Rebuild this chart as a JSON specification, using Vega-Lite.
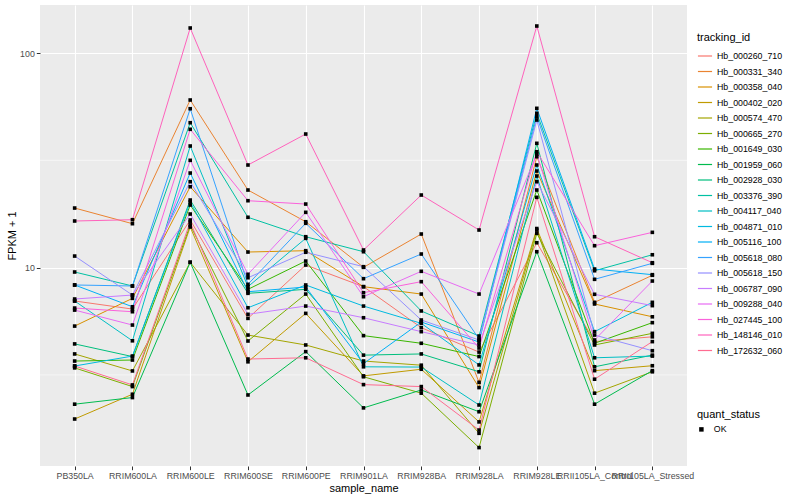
{
"$schema":"https://vega.github.io/schema/vega-lite/v6.json",
"width":647,"height":461,
"autosize":{"type":"none"},
"padding":{"left":40,"top":5,"right":113,"bottom":34},
"background":"white",
"config":{"view":{"fill":"#EBEBEB","stroke":null},"font":"Liberation Sans",
"axis":{"domain":false,"tickColor":"#333333","tickSize":3.7,"tickWidth":1,"labelColor":"#4D4D4D","labelFontSize":8.8,"titleFontSize":11,"titleFontWeight":"normal","titleColor":"black","gridColor":"white","gridWidth":1.1,"labelPadding":2},
"legend":{"titleFontSize":11,"titleFontWeight":"normal","titleColor":"black","labelFontSize":8.8,"labelColor":"black"}},
"datasets":{
"minor":[{"g":3.1623},{"g":31.623}],
"expr":[
{"tracking_id":"Hb_000260_710","sample_name":"PB350LA","fpkm":6.99},{"tracking_id":"Hb_000260_710","sample_name":"RRIM600LA","fpkm":6.41},{"tracking_id":"Hb_000260_710","sample_name":"RRIM600LE","fpkm":16.67},{"tracking_id":"Hb_000260_710","sample_name":"RRIM600SE","fpkm":5.80},{"tracking_id":"Hb_000260_710","sample_name":"RRIM600PE","fpkm":10.28},{"tracking_id":"Hb_000260_710","sample_name":"RRIM901LA","fpkm":8.15},{"tracking_id":"Hb_000260_710","sample_name":"RRIM928BA","fpkm":5.25},{"tracking_id":"Hb_000260_710","sample_name":"RRIM928LA","fpkm":4.04},{"tracking_id":"Hb_000260_710","sample_name":"RRIM928LE","fpkm":13.06},{"tracking_id":"Hb_000260_710","sample_name":"RRII105LA_Control","fpkm":4.52},{"tracking_id":"Hb_000260_710","sample_name":"RRII105LA_Stressed","fpkm":4.76},
{"tracking_id":"Hb_000331_340","sample_name":"PB350LA","fpkm":18.95},{"tracking_id":"Hb_000331_340","sample_name":"RRIM600LA","fpkm":16.02},{"tracking_id":"Hb_000331_340","sample_name":"RRIM600LE","fpkm":60.4},{"tracking_id":"Hb_000331_340","sample_name":"RRIM600SE","fpkm":22.99},{"tracking_id":"Hb_000331_340","sample_name":"RRIM600PE","fpkm":16.36},{"tracking_id":"Hb_000331_340","sample_name":"RRIM901LA","fpkm":10.03},{"tracking_id":"Hb_000331_340","sample_name":"RRIM928BA","fpkm":14.34},{"tracking_id":"Hb_000331_340","sample_name":"RRIM928LA","fpkm":2.92},{"tracking_id":"Hb_000331_340","sample_name":"RRIM928LE","fpkm":32.87},{"tracking_id":"Hb_000331_340","sample_name":"RRII105LA_Control","fpkm":6.89},{"tracking_id":"Hb_000331_340","sample_name":"RRII105LA_Stressed","fpkm":9.21},
{"tracking_id":"Hb_000358_040","sample_name":"PB350LA","fpkm":5.34},{"tracking_id":"Hb_000358_040","sample_name":"RRIM600LA","fpkm":7.19},{"tracking_id":"Hb_000358_040","sample_name":"RRIM600LE","fpkm":23.82},{"tracking_id":"Hb_000358_040","sample_name":"RRIM600SE","fpkm":11.82},{"tracking_id":"Hb_000358_040","sample_name":"RRIM600PE","fpkm":11.99},{"tracking_id":"Hb_000358_040","sample_name":"RRIM901LA","fpkm":8.15},{"tracking_id":"Hb_000358_040","sample_name":"RRIM928BA","fpkm":7.53},{"tracking_id":"Hb_000358_040","sample_name":"RRIM928LA","fpkm":2.76},{"tracking_id":"Hb_000358_040","sample_name":"RRIM928LE","fpkm":28.19},{"tracking_id":"Hb_000358_040","sample_name":"RRII105LA_Control","fpkm":6.77},{"tracking_id":"Hb_000358_040","sample_name":"RRII105LA_Stressed","fpkm":5.90},
{"tracking_id":"Hb_000402_020","sample_name":"PB350LA","fpkm":1.97},{"tracking_id":"Hb_000402_020","sample_name":"RRIM600LA","fpkm":2.57},{"tracking_id":"Hb_000402_020","sample_name":"RRIM600LE","fpkm":15.46},{"tracking_id":"Hb_000402_020","sample_name":"RRIM600SE","fpkm":3.64},{"tracking_id":"Hb_000402_020","sample_name":"RRIM600PE","fpkm":6.12},{"tracking_id":"Hb_000402_020","sample_name":"RRIM901LA","fpkm":3.13},{"tracking_id":"Hb_000402_020","sample_name":"RRIM928BA","fpkm":3.36},{"tracking_id":"Hb_000402_020","sample_name":"RRIM928LA","fpkm":1.91},{"tracking_id":"Hb_000402_020","sample_name":"RRIM928LE","fpkm":15.21},{"tracking_id":"Hb_000402_020","sample_name":"RRII105LA_Control","fpkm":3.31},{"tracking_id":"Hb_000402_020","sample_name":"RRII105LA_Stressed","fpkm":3.49},
{"tracking_id":"Hb_000574_470","sample_name":"PB350LA","fpkm":3.96},{"tracking_id":"Hb_000574_470","sample_name":"RRIM600LA","fpkm":3.30},{"tracking_id":"Hb_000574_470","sample_name":"RRIM600LE","fpkm":10.59},{"tracking_id":"Hb_000574_470","sample_name":"RRIM600SE","fpkm":4.85},{"tracking_id":"Hb_000574_470","sample_name":"RRIM600PE","fpkm":4.36},{"tracking_id":"Hb_000574_470","sample_name":"RRIM901LA","fpkm":3.67},{"tracking_id":"Hb_000574_470","sample_name":"RRIM928BA","fpkm":3.51},{"tracking_id":"Hb_000574_470","sample_name":"RRIM928LA","fpkm":1.69},{"tracking_id":"Hb_000574_470","sample_name":"RRIM928LE","fpkm":14.97},{"tracking_id":"Hb_000574_470","sample_name":"RRII105LA_Control","fpkm":2.60},{"tracking_id":"Hb_000574_470","sample_name":"RRII105LA_Stressed","fpkm":3.27},
{"tracking_id":"Hb_000665_270","sample_name":"PB350LA","fpkm":3.41},{"tracking_id":"Hb_000665_270","sample_name":"RRIM600LA","fpkm":2.79},{"tracking_id":"Hb_000665_270","sample_name":"RRIM600LE","fpkm":15.79},{"tracking_id":"Hb_000665_270","sample_name":"RRIM600SE","fpkm":4.55},{"tracking_id":"Hb_000665_270","sample_name":"RRIM600PE","fpkm":7.53},{"tracking_id":"Hb_000665_270","sample_name":"RRIM901LA","fpkm":3.10},{"tracking_id":"Hb_000665_270","sample_name":"RRIM928BA","fpkm":2.60},{"tracking_id":"Hb_000665_270","sample_name":"RRIM928LA","fpkm":1.45},{"tracking_id":"Hb_000665_270","sample_name":"RRIM928LE","fpkm":14.45},{"tracking_id":"Hb_000665_270","sample_name":"RRII105LA_Control","fpkm":4.36},{"tracking_id":"Hb_000665_270","sample_name":"RRII105LA_Stressed","fpkm":4.94},
{"tracking_id":"Hb_001649_030","sample_name":"PB350LA","fpkm":3.67},{"tracking_id":"Hb_001649_030","sample_name":"RRIM600LA","fpkm":3.71},{"tracking_id":"Hb_001649_030","sample_name":"RRIM600LE","fpkm":19.57},{"tracking_id":"Hb_001649_030","sample_name":"RRIM600SE","fpkm":7.92},{"tracking_id":"Hb_001649_030","sample_name":"RRIM600PE","fpkm":10.73},{"tracking_id":"Hb_001649_030","sample_name":"RRIM901LA","fpkm":4.82},{"tracking_id":"Hb_001649_030","sample_name":"RRIM928BA","fpkm":4.44},{"tracking_id":"Hb_001649_030","sample_name":"RRIM928LA","fpkm":3.85},{"tracking_id":"Hb_001649_030","sample_name":"RRIM928LE","fpkm":22.99},{"tracking_id":"Hb_001649_030","sample_name":"RRII105LA_Control","fpkm":4.44},{"tracking_id":"Hb_001649_030","sample_name":"RRII105LA_Stressed","fpkm":5.54},
{"tracking_id":"Hb_001959_060","sample_name":"PB350LA","fpkm":2.31},{"tracking_id":"Hb_001959_060","sample_name":"RRIM600LA","fpkm":2.48},{"tracking_id":"Hb_001959_060","sample_name":"RRIM600LE","fpkm":10.59},{"tracking_id":"Hb_001959_060","sample_name":"RRIM600SE","fpkm":2.55},{"tracking_id":"Hb_001959_060","sample_name":"RRIM600PE","fpkm":4.06},{"tracking_id":"Hb_001959_060","sample_name":"RRIM901LA","fpkm":2.22},{"tracking_id":"Hb_001959_060","sample_name":"RRIM928BA","fpkm":2.69},{"tracking_id":"Hb_001959_060","sample_name":"RRIM928LA","fpkm":2.13},{"tracking_id":"Hb_001959_060","sample_name":"RRIM928LE","fpkm":11.86},{"tracking_id":"Hb_001959_060","sample_name":"RRII105LA_Control","fpkm":2.31},{"tracking_id":"Hb_001959_060","sample_name":"RRII105LA_Stressed","fpkm":3.31},
{"tracking_id":"Hb_002928_030","sample_name":"PB350LA","fpkm":4.41},{"tracking_id":"Hb_002928_030","sample_name":"RRIM600LA","fpkm":3.85},{"tracking_id":"Hb_002928_030","sample_name":"RRIM600LE","fpkm":20.65},{"tracking_id":"Hb_002928_030","sample_name":"RRIM600SE","fpkm":7.59},{"tracking_id":"Hb_002928_030","sample_name":"RRIM600PE","fpkm":7.92},{"tracking_id":"Hb_002928_030","sample_name":"RRIM901LA","fpkm":3.91},{"tracking_id":"Hb_002928_030","sample_name":"RRIM928BA","fpkm":3.96},{"tracking_id":"Hb_002928_030","sample_name":"RRIM928LA","fpkm":3.27},{"tracking_id":"Hb_002928_030","sample_name":"RRIM928LE","fpkm":37.95},{"tracking_id":"Hb_002928_030","sample_name":"RRII105LA_Control","fpkm":3.45},{"tracking_id":"Hb_002928_030","sample_name":"RRII105LA_Stressed","fpkm":3.91},
{"tracking_id":"Hb_003376_390","sample_name":"PB350LA","fpkm":9.54},{"tracking_id":"Hb_003376_390","sample_name":"RRIM600LA","fpkm":8.21},{"tracking_id":"Hb_003376_390","sample_name":"RRIM600LE","fpkm":47.34},{"tracking_id":"Hb_003376_390","sample_name":"RRIM600SE","fpkm":17.16},{"tracking_id":"Hb_003376_390","sample_name":"RRIM600PE","fpkm":13.93},{"tracking_id":"Hb_003376_390","sample_name":"RRIM901LA","fpkm":11.86},{"tracking_id":"Hb_003376_390","sample_name":"RRIM928BA","fpkm":6.28},{"tracking_id":"Hb_003376_390","sample_name":"RRIM928LA","fpkm":4.80},{"tracking_id":"Hb_003376_390","sample_name":"RRIM928LE","fpkm":52.36},{"tracking_id":"Hb_003376_390","sample_name":"RRII105LA_Control","fpkm":9.67},{"tracking_id":"Hb_003376_390","sample_name":"RRII105LA_Stressed","fpkm":11.48},
{"tracking_id":"Hb_004117_040","sample_name":"PB350LA","fpkm":6.99},{"tracking_id":"Hb_004117_040","sample_name":"RRIM600LA","fpkm":4.56},{"tracking_id":"Hb_004117_040","sample_name":"RRIM600LE","fpkm":36.87},{"tracking_id":"Hb_004117_040","sample_name":"RRIM600SE","fpkm":8.15},{"tracking_id":"Hb_004117_040","sample_name":"RRIM600PE","fpkm":13.69},{"tracking_id":"Hb_004117_040","sample_name":"RRIM901LA","fpkm":3.45},{"tracking_id":"Hb_004117_040","sample_name":"RRIM928BA","fpkm":3.44},{"tracking_id":"Hb_004117_040","sample_name":"RRIM928LA","fpkm":2.29},{"tracking_id":"Hb_004117_040","sample_name":"RRIM928LE","fpkm":26.72},{"tracking_id":"Hb_004117_040","sample_name":"RRII105LA_Control","fpkm":3.80},{"tracking_id":"Hb_004117_040","sample_name":"RRII105LA_Stressed","fpkm":3.87},
{"tracking_id":"Hb_004871_010","sample_name":"PB350LA","fpkm":3.48},{"tracking_id":"Hb_004871_010","sample_name":"RRIM600LA","fpkm":3.87},{"tracking_id":"Hb_004871_010","sample_name":"RRIM600LE","fpkm":20.21},{"tracking_id":"Hb_004871_010","sample_name":"RRIM600SE","fpkm":6.50},{"tracking_id":"Hb_004871_010","sample_name":"RRIM600PE","fpkm":8.30},{"tracking_id":"Hb_004871_010","sample_name":"RRIM901LA","fpkm":6.62},{"tracking_id":"Hb_004871_010","sample_name":"RRIM928BA","fpkm":5.50},{"tracking_id":"Hb_004871_010","sample_name":"RRIM928LA","fpkm":3.52},{"tracking_id":"Hb_004871_010","sample_name":"RRIM928LE","fpkm":30.07},{"tracking_id":"Hb_004871_010","sample_name":"RRII105LA_Control","fpkm":5.03},{"tracking_id":"Hb_004871_010","sample_name":"RRII105LA_Stressed","fpkm":6.89},
{"tracking_id":"Hb_005116_100","sample_name":"PB350LA","fpkm":8.30},{"tracking_id":"Hb_005116_100","sample_name":"RRIM600LA","fpkm":6.57},{"tracking_id":"Hb_005116_100","sample_name":"RRIM600LE","fpkm":27.59},{"tracking_id":"Hb_005116_100","sample_name":"RRIM600SE","fpkm":7.72},{"tracking_id":"Hb_005116_100","sample_name":"RRIM600PE","fpkm":8.12},{"tracking_id":"Hb_005116_100","sample_name":"RRIM901LA","fpkm":3.57},{"tracking_id":"Hb_005116_100","sample_name":"RRIM928BA","fpkm":5.58},{"tracking_id":"Hb_005116_100","sample_name":"RRIM928LA","fpkm":4.50},{"tracking_id":"Hb_005116_100","sample_name":"RRIM928LE","fpkm":55.24},{"tracking_id":"Hb_005116_100","sample_name":"RRII105LA_Control","fpkm":9.85},{"tracking_id":"Hb_005116_100","sample_name":"RRII105LA_Stressed","fpkm":9.27},
{"tracking_id":"Hb_005618_080","sample_name":"PB350LA","fpkm":8.30},{"tracking_id":"Hb_005618_080","sample_name":"RRIM600LA","fpkm":8.21},{"tracking_id":"Hb_005618_080","sample_name":"RRIM600LE","fpkm":55.0},{"tracking_id":"Hb_005618_080","sample_name":"RRIM600SE","fpkm":8.36},{"tracking_id":"Hb_005618_080","sample_name":"RRIM600PE","fpkm":16.09},{"tracking_id":"Hb_005618_080","sample_name":"RRIM901LA","fpkm":8.88},{"tracking_id":"Hb_005618_080","sample_name":"RRIM928BA","fpkm":11.57},{"tracking_id":"Hb_005618_080","sample_name":"RRIM928LA","fpkm":4.65},{"tracking_id":"Hb_005618_080","sample_name":"RRIM928LE","fpkm":50.5},{"tracking_id":"Hb_005618_080","sample_name":"RRII105LA_Control","fpkm":8.82},{"tracking_id":"Hb_005618_080","sample_name":"RRII105LA_Stressed","fpkm":10.47},
{"tracking_id":"Hb_005618_150","sample_name":"PB350LA","fpkm":11.32},{"tracking_id":"Hb_005618_150","sample_name":"RRIM600LA","fpkm":7.45},{"tracking_id":"Hb_005618_150","sample_name":"RRIM600LE","fpkm":25.14},{"tracking_id":"Hb_005618_150","sample_name":"RRIM600SE","fpkm":8.97},{"tracking_id":"Hb_005618_150","sample_name":"RRIM600PE","fpkm":11.79},{"tracking_id":"Hb_005618_150","sample_name":"RRIM901LA","fpkm":10.10},{"tracking_id":"Hb_005618_150","sample_name":"RRIM928BA","fpkm":5.70},{"tracking_id":"Hb_005618_150","sample_name":"RRIM928LA","fpkm":4.60},{"tracking_id":"Hb_005618_150","sample_name":"RRIM928LE","fpkm":48.73},{"tracking_id":"Hb_005618_150","sample_name":"RRII105LA_Control","fpkm":4.85},{"tracking_id":"Hb_005618_150","sample_name":"RRII105LA_Stressed","fpkm":4.10},
{"tracking_id":"Hb_006787_090","sample_name":"PB350LA","fpkm":7.14},{"tracking_id":"Hb_006787_090","sample_name":"RRIM600LA","fpkm":7.45},{"tracking_id":"Hb_006787_090","sample_name":"RRIM600LE","fpkm":17.77},{"tracking_id":"Hb_006787_090","sample_name":"RRIM600SE","fpkm":6.06},{"tracking_id":"Hb_006787_090","sample_name":"RRIM600PE","fpkm":6.62},{"tracking_id":"Hb_006787_090","sample_name":"RRIM901LA","fpkm":5.84},{"tracking_id":"Hb_006787_090","sample_name":"RRIM928BA","fpkm":5.03},{"tracking_id":"Hb_006787_090","sample_name":"RRIM928LA","fpkm":4.36},{"tracking_id":"Hb_006787_090","sample_name":"RRIM928LE","fpkm":25.14},{"tracking_id":"Hb_006787_090","sample_name":"RRII105LA_Control","fpkm":7.51},{"tracking_id":"Hb_006787_090","sample_name":"RRII105LA_Stressed","fpkm":6.65},
{"tracking_id":"Hb_009288_040","sample_name":"PB350LA","fpkm":6.34},{"tracking_id":"Hb_009288_040","sample_name":"RRIM600LA","fpkm":5.40},{"tracking_id":"Hb_009288_040","sample_name":"RRIM600LE","fpkm":31.62},{"tracking_id":"Hb_009288_040","sample_name":"RRIM600SE","fpkm":9.31},{"tracking_id":"Hb_009288_040","sample_name":"RRIM600PE","fpkm":18.10},{"tracking_id":"Hb_009288_040","sample_name":"RRIM901LA","fpkm":7.32},{"tracking_id":"Hb_009288_040","sample_name":"RRIM928BA","fpkm":9.61},{"tracking_id":"Hb_009288_040","sample_name":"RRIM928LA","fpkm":7.53},{"tracking_id":"Hb_009288_040","sample_name":"RRIM928LE","fpkm":33.84},{"tracking_id":"Hb_009288_040","sample_name":"RRII105LA_Control","fpkm":4.60},{"tracking_id":"Hb_009288_040","sample_name":"RRII105LA_Stressed","fpkm":8.66},
{"tracking_id":"Hb_027445_100","sample_name":"PB350LA","fpkm":6.48},{"tracking_id":"Hb_027445_100","sample_name":"RRIM600LA","fpkm":6.23},{"tracking_id":"Hb_027445_100","sample_name":"RRIM600LE","fpkm":44.11},{"tracking_id":"Hb_027445_100","sample_name":"RRIM600SE","fpkm":20.50},{"tracking_id":"Hb_027445_100","sample_name":"RRIM600PE","fpkm":19.78},{"tracking_id":"Hb_027445_100","sample_name":"RRIM901LA","fpkm":7.64},{"tracking_id":"Hb_027445_100","sample_name":"RRIM928BA","fpkm":8.60},{"tracking_id":"Hb_027445_100","sample_name":"RRIM928LA","fpkm":4.22},{"tracking_id":"Hb_027445_100","sample_name":"RRIM928LE","fpkm":34.68},{"tracking_id":"Hb_027445_100","sample_name":"RRII105LA_Control","fpkm":12.65},{"tracking_id":"Hb_027445_100","sample_name":"RRII105LA_Stressed","fpkm":14.60},
{"tracking_id":"Hb_148146_010","sample_name":"PB350LA","fpkm":16.49},{"tracking_id":"Hb_148146_010","sample_name":"RRIM600LA","fpkm":16.72},{"tracking_id":"Hb_148146_010","sample_name":"RRIM600LE","fpkm":130.8},{"tracking_id":"Hb_148146_010","sample_name":"RRIM600SE","fpkm":30.07},{"tracking_id":"Hb_148146_010","sample_name":"RRIM600PE","fpkm":41.93},{"tracking_id":"Hb_148146_010","sample_name":"RRIM901LA","fpkm":12.08},{"tracking_id":"Hb_148146_010","sample_name":"RRIM928BA","fpkm":21.79},{"tracking_id":"Hb_148146_010","sample_name":"RRIM928LA","fpkm":14.97},{"tracking_id":"Hb_148146_010","sample_name":"RRIM928LE","fpkm":133.6},{"tracking_id":"Hb_148146_010","sample_name":"RRII105LA_Control","fpkm":13.93},{"tracking_id":"Hb_148146_010","sample_name":"RRII105LA_Stressed","fpkm":10.54},
{"tracking_id":"Hb_172632_060","sample_name":"PB350LA","fpkm":3.48},{"tracking_id":"Hb_172632_060","sample_name":"RRIM600LA","fpkm":2.84},{"tracking_id":"Hb_172632_060","sample_name":"RRIM600LE","fpkm":16.31},{"tracking_id":"Hb_172632_060","sample_name":"RRIM600SE","fpkm":3.75},{"tracking_id":"Hb_172632_060","sample_name":"RRIM600PE","fpkm":3.80},{"tracking_id":"Hb_172632_060","sample_name":"RRIM901LA","fpkm":2.85},{"tracking_id":"Hb_172632_060","sample_name":"RRIM928BA","fpkm":2.79},{"tracking_id":"Hb_172632_060","sample_name":"RRIM928LA","fpkm":1.75},{"tracking_id":"Hb_172632_060","sample_name":"RRIM928LE","fpkm":21.26},{"tracking_id":"Hb_172632_060","sample_name":"RRII105LA_Control","fpkm":3.02},{"tracking_id":"Hb_172632_060","sample_name":"RRII105LA_Stressed","fpkm":4.52}
]},
"layer":[
{"data":{"name":"minor"},"mark":{"type":"rule","color":"white","strokeWidth":0.55},
 "encoding":{"y":{"field":"g","type":"quantitative","scale":{"type":"log","domain":[1.19,167.4],"nice":false,"zero":false},"axis":{"values":[10,100],"format":"d","title":"FPKM + 1","titlePadding":2}}}},
{"data":{"name":"expr"},"mark":{"type":"line","strokeWidth":1},
 "encoding":{
  "x":{"field":"sample_name","type":"nominal","sort":["PB350LA","RRIM600LA","RRIM600LE","RRIM600SE","RRIM600PE","RRIM901LA","RRIM928BA","RRIM928LA","RRIM928LE","RRII105LA_Control","RRII105LA_Stressed"],"scale":{"type":"point","padding":0.6},"axis":{"labelAngle":0,"labelOverlap":false,"labelBound":false,"grid":true,"title":"sample_name","titlePadding":2}},
  "y":{"field":"fpkm","type":"quantitative","scale":{"type":"log","domain":[1.19,167.4],"nice":false,"zero":false},"axis":{"values":[10,100],"format":"d","title":"FPKM + 1","titlePadding":2}},
  "color":{"field":"tracking_id","type":"nominal","scale":{"range":["#F8766D","#EA8331","#D89000","#C09B00","#A3A500","#7CAE00","#39B600","#00BB4E","#00BF7D","#00C1A3","#00BFC4","#00BAE0","#00B0F6","#35A2FF","#9590FF","#C77CFF","#E76BF3","#FA62DB","#FF62BC","#FF6C91"]},
   "legend":{"orient":"none","legendX":657,"legendY":27,"title":"tracking_id","symbolType":"stroke","symbolStrokeWidth":1.2,"symbolSize":200,"rowPadding":2.5,"labelOffset":4}}
 }},
{"data":{"name":"expr"},"mark":{"type":"point","filled":true,"color":"black","size":13,"opacity":1},
 "encoding":{
  "x":{"field":"sample_name","type":"nominal","sort":["PB350LA","RRIM600LA","RRIM600LE","RRIM600SE","RRIM600PE","RRIM901LA","RRIM928BA","RRIM928LA","RRIM928LE","RRII105LA_Control","RRII105LA_Stressed"],"scale":{"type":"point","padding":0.6},"axis":{"labelAngle":0,"labelOverlap":false,"labelBound":false,"grid":true,"title":"sample_name","titlePadding":2}},
  "y":{"field":"fpkm","type":"quantitative","scale":{"type":"log","domain":[1.19,167.4],"nice":false,"zero":false},"axis":{"values":[10,100],"format":"d","title":"FPKM + 1","titlePadding":2}},
  "shape":{"datum":"OK","type":"nominal","scale":{"range":["square"]},"legend":{"orient":"none","legendX":657,"legendY":404,"title":"quant_status","symbolFillColor":"black","symbolStrokeColor":"black","symbolSize":20,"labelOffset":8}}
 }}
]
}
